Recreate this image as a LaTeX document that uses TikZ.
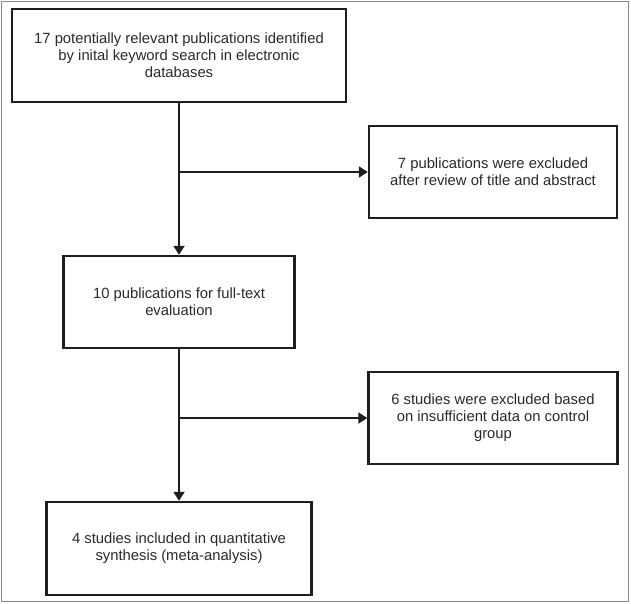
\documentclass[tikz,border=0pt]{standalone}
\usepackage{fontspec}
\setmainfont{Liberation Sans}
\usetikzlibrary{arrows.meta}
\definecolor{ink}{HTML}{1E1E1E}
\definecolor{txt}{HTML}{2A2A2A}
\definecolor{frame}{HTML}{8A8A8A}
\begin{document}
\begin{tikzpicture}[x=1pt,y=-1pt,
  flowbox/.style={draw=ink, line width=2.4pt, fill=white, inner sep=0pt, align=center,
    text=txt, font=\fontsize{14.8}{17}\selectfont},
  conn/.style={draw=ink, line width=2pt},
  arr/.style={conn, -{Triangle[length=9pt,width=11pt]}}]
\useasboundingbox (0,0) rectangle (631,603);
\draw[frame, line width=1pt] (1.5,1.5) rectangle (628.5,601.5);
\node[flowbox, minimum width=334pt, minimum height=93pt] (b1) at (179,55.5)
  {17 potentially relevant publications identified\\by inital keyword search in electronic\\databases};
\node[flowbox, minimum width=248pt, minimum height=92pt] (b2) at (493,172)
  {7 publications were excluded\\after review of title and abstract};
\node[flowbox, minimum width=231pt, minimum height=92pt] (b3) at (179,302)
  {10 publications for full-text\\evaluation};
\node[flowbox, minimum width=249pt, minimum height=92pt] (b4) at (493,418)
  {6 studies were excluded based\\on insufficient data on control\\group};
\node[flowbox, minimum width=265pt, minimum height=93pt] (b5) at (179,548.5)
  {4 studies included in quantitative\\synthesis (meta-analysis)};
\coordinate (j1) at (179,172);
\coordinate (j2) at (179,418);
\draw[arr] (b1.south) -- (b3.north);
\draw[arr] (j1) -- (b2.west);
\draw[arr] (b3.south) -- (b5.north);
\draw[arr] (j2) -- (b4.west);
\end{tikzpicture}
\end{document}
